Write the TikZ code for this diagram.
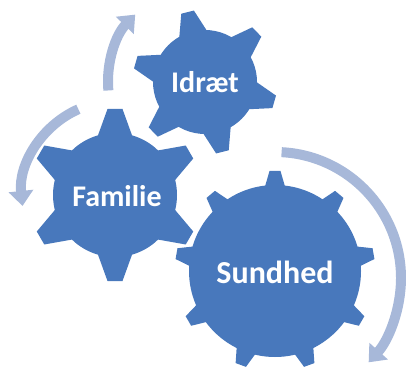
\documentclass[tikz,border=0pt]{standalone}
\usepackage{fontspec}
\setmainfont{Carlito}
\usetikzlibrary{arrows.meta}
\definecolor{gearblue}{HTML}{4878BC}
\definecolor{arrowblue}{HTML}{A7B8D9}
\tikzset{
  gearfill/.style={fill=gearblue},
  gearlabel/.style={text=white, font=\bfseries\fontsize{30}{30}\selectfont, inner sep=0pt},
  biglabel/.style={gearlabel, font=\bfseries\fontsize{32}{32}\selectfont},
  cyclearrow/.style={draw=arrowblue, line width=10pt, -{Triangle[width=24pt,length=15pt]}},
}
\newcommand{\mygear}[8]{%
  \begin{scope}[shift={(#1,#2)}]
    \fill[gearfill] (0,0) circle[radius=#3pt];
    \foreach \k in {1,...,#5}{
      \fill[gearfill, rotate={#6+360*\k/#5}] (#3-5,-#7) -- (#4,-#8) -- (#4,#8) -- (#3-5,#7) -- cycle;
    }
  \end{scope}}
\begin{document}
\begin{tikzpicture}[x=1pt,y=1pt]
\useasboundingbox (0,0) rectangle (406,375);
% gears
\mygear{275}{104}{86}{100}{9}{90}{11}{5.5}
\mygear{115}{180}{62}{86}{6}{90}{18}{7.5}
\mygear{205}{293}{52}{72}{6}{104}{15}{6.5}
% labels
\node[biglabel] (sun) at (275,103) {Sundhed};
\node[gearlabel] (fam) at (117,179) {Familie};
\node[gearlabel] (idr) at (205,293) {Idræt};
\coordinate (sunarc) at (275,97);
% arrows
\draw[cyclearrow] ([shift={(185:97pt)}]idr.center) arc[start angle=185, end angle=136, radius=97pt];
\draw[cyclearrow] ([shift={(114:95pt)}]fam.center) arc[start angle=114, end angle=186, radius=95pt];
\draw[cyclearrow] ([shift={(87:126pt)}]sunarc) arc[start angle=87, end angle=-42, radius=126pt];
\end{tikzpicture}
\end{document}
